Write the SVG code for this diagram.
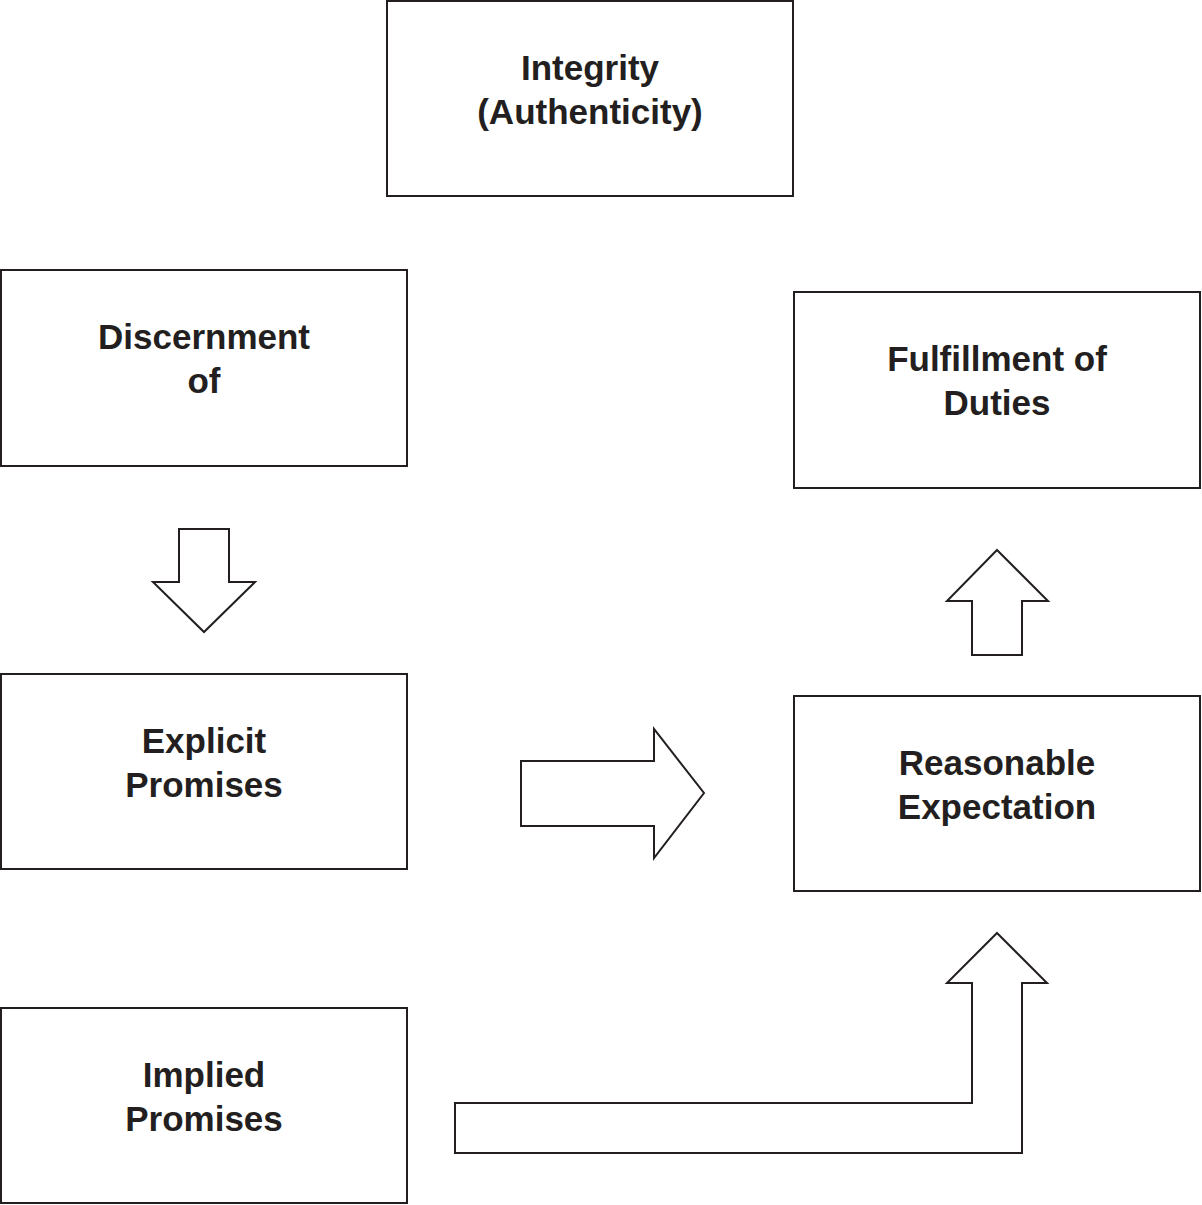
<svg xmlns="http://www.w3.org/2000/svg" width="1202" height="1205" viewBox="0 0 1202 1205">
<style>
.box{fill:#fff;stroke:#231f20;stroke-width:2}
.arr{fill:#fff;stroke:#231f20;stroke-width:2;stroke-linejoin:miter}
.t{font-family:"Liberation Sans",Arial,sans-serif;font-weight:bold;font-size:35px;fill:#231f20;text-anchor:middle}
</style>
<rect width="1202" height="1205" fill="#fff"/>
<g id="integrity"><rect class="box" x="387" y="1" width="406" height="195"/><text class="t" x="590" y="80">Integrity</text><text class="t" x="590" y="124">(Authenticity)</text></g>
<g id="discernment"><rect class="box" x="1" y="270" width="406" height="196"/><text class="t" x="204" y="349">Discernment</text><text class="t" x="204" y="393">of</text></g>
<g id="fulfillment"><rect class="box" x="794" y="292" width="406" height="196"/><text class="t" x="997" y="371">Fulfillment of</text><text class="t" x="997" y="415">Duties</text></g>
<g id="explicit"><rect class="box" x="1" y="674" width="406" height="195"/><text class="t" x="204" y="753">Explicit</text><text class="t" x="204" y="797">Promises</text></g>
<g id="reasonable"><rect class="box" x="794" y="696" width="406" height="195"/><text class="t" x="997" y="775">Reasonable</text><text class="t" x="997" y="819">Expectation</text></g>
<g id="implied"><rect class="box" x="1" y="1008" width="406" height="195"/><text class="t" x="204" y="1087">Implied</text><text class="t" x="204" y="1131">Promises</text></g>
<g id="connectors">
<polygon class="arr" points="179,529 229,529 229,582 255,582 204,632 153,582 179,582"/>
<polygon class="arr" points="521,761 654,761 654,729 704,793 654,858 654,826 521,826"/>
<polygon class="arr" points="997,550 1048,601 1022,601 1022,655 972,655 972,601 947,601"/>
<polygon class="arr" points="997,933 1047,983 1022,983 1022,1153 455,1153 455,1103 972,1103 972,983 947,983"/>
</g>
</svg>
